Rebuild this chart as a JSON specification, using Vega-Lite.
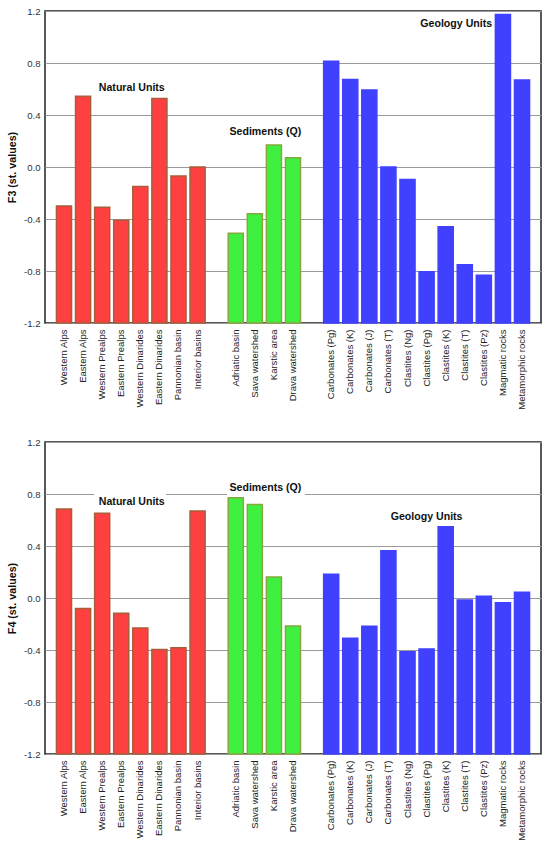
{
  "$schema": "https://vega.github.io/schema/vega-lite/v6.json",
  "background": "white",
  "padding": {"left": 5, "top": 5, "right": 5, "bottom": 2},
  "spacing": 26,
  "datasets": {
    "units": [
      {"unit": "Western Alps", "group": "Natural Units", "F3": -0.30, "F4": 0.685},
      {"unit": "Eastern Alps", "group": "Natural Units", "F3": 0.544, "F4": -0.08},
      {"unit": "Western Prealps", "group": "Natural Units", "F3": -0.31, "F4": 0.651},
      {"unit": "Eastern Prealps", "group": "Natural Units", "F3": -0.41, "F4": -0.118},
      {"unit": "Western Dinarides", "group": "Natural Units", "F3": -0.15, "F4": -0.23},
      {"unit": "Eastern Dinarides", "group": "Natural Units", "F3": 0.526, "F4": -0.397},
      {"unit": "Pannonian basin", "group": "Natural Units", "F3": -0.07, "F4": -0.382},
      {"unit": "Interior basins", "group": "Natural Units", "F3": 0.0, "F4": 0.669},
      {"unit": "Adriatic basin", "group": "Sediments (Q)", "F3": -0.51, "F4": 0.772},
      {"unit": "Sava watershed", "group": "Sediments (Q)", "F3": -0.36, "F4": 0.72},
      {"unit": "Karstic area", "group": "Sediments (Q)", "F3": 0.17, "F4": 0.162},
      {"unit": "Drava watershed", "group": "Sediments (Q)", "F3": 0.072, "F4": -0.215},
      {"unit": "Carbonates (Pg)", "group": "Geology Units", "F3": 0.813, "F4": 0.182},
      {"unit": "Carbonates (K)", "group": "Geology Units", "F3": 0.674, "F4": -0.31},
      {"unit": "Carbonates (J)", "group": "Geology Units", "F3": 0.592, "F4": -0.218},
      {"unit": "Carbonates (T)", "group": "Geology Units", "F3": 0.0, "F4": 0.364},
      {"unit": "Clastites (Ng)", "group": "Geology Units", "F3": -0.097, "F4": -0.413},
      {"unit": "Clastites (Pg)", "group": "Geology Units", "F3": -0.805, "F4": -0.392},
      {"unit": "Clastites (K)", "group": "Geology Units", "F3": -0.459, "F4": 0.549},
      {"unit": "Clastites (T)", "group": "Geology Units", "F3": -0.751, "F4": -0.015},
      {"unit": "Clastites (Pz)", "group": "Geology Units", "F3": -0.833, "F4": 0.013},
      {"unit": "Magmatic rocks", "group": "Geology Units", "F3": 1.174, "F4": -0.036},
      {"unit": "Metamorphic rocks", "group": "Geology Units", "F3": 0.669, "F4": 0.044}
    ],
    "notes": [
      {"panel": "F3", "label": "Natural Units", "unit": "Eastern Prealps", "value": 0.61},
      {"panel": "F3", "label": "Sediments (Q)", "unit": "Sava watershed", "value": 0.266},
      {"panel": "F3", "label": "Geology Units", "unit": "Clastites (K)", "value": 1.10},
      {"panel": "F4", "label": "Natural Units", "unit": "Eastern Prealps", "value": 0.74},
      {"panel": "F4", "label": "Sediments (Q)", "unit": "Sava watershed", "value": 0.85},
      {"panel": "F4", "label": "Geology Units", "unit": "Clastites (Pg)", "value": 0.625}
    ]
  },
  "vconcat": [
    {
      "width": 496,
      "height": 312,
      "layer": [
        {
          "data": {"name": "units"},
          "mark": {"type": "bar", "strokeWidth": 1.5},
          "encoding": {
            "x": {
              "field": "unit", "type": "nominal", "title": null,
              "scale": {
                "domain": ["Western Alps", "Eastern Alps", "Western Prealps", "Eastern Prealps", "Western Dinarides", "Eastern Dinarides", "Pannonian basin", "Interior basins", " ", "Adriatic basin", "Sava watershed", "Karstic area", "Drava watershed", "  ", "Carbonates (Pg)", "Carbonates (K)", "Carbonates (J)", "Carbonates (T)", "Clastites (Ng)", "Clastites (Pg)", "Clastites (K)", "Clastites (T)", "Clastites (Pz)", "Magmatic rocks", "Metamorphic rocks"],
                "paddingInner": 0.21, "paddingOuter": 0.6
              }
            },
            "y": {
              "field": "F3", "type": "quantitative", "title": "F3 (st. values)",
              "scale": {"domain": [-1.2, 1.2], "nice": false, "zero": false},
              "axis": {"values": [-1.2, -0.8, -0.4, 0, 0.4, 0.8, 1.2]}
            },
            "y2": {"datum": -1.2},
            "color": {
              "field": "group", "type": "nominal", "legend": null,
              "scale": {"domain": ["Natural Units", "Sediments (Q)", "Geology Units"], "range": ["#ff4040", "#40f040", "#4040ff"]}
            },
            "stroke": {
              "field": "group", "type": "nominal", "legend": null,
              "scale": {"domain": ["Natural Units", "Sediments (Q)", "Geology Units"], "range": ["#a85c3c", "#86a83c", "#4040ff"]}
            }
          }
        },
        {
          "data": {"name": "notes"},
          "transform": [{"filter": "datum.panel == 'F3'"}],
          "mark": {"type": "text", "fontWeight": "bold", "fontSize": 10.6, "color": "#111"},
          "encoding": {
            "x": {
              "field": "unit", "type": "nominal", "bandPosition": 1.2, "title": null,
              "scale": {
                "domain": ["Western Alps", "Eastern Alps", "Western Prealps", "Eastern Prealps", "Western Dinarides", "Eastern Dinarides", "Pannonian basin", "Interior basins", " ", "Adriatic basin", "Sava watershed", "Karstic area", "Drava watershed", "  ", "Carbonates (Pg)", "Carbonates (K)", "Carbonates (J)", "Carbonates (T)", "Clastites (Ng)", "Clastites (Pg)", "Clastites (K)", "Clastites (T)", "Clastites (Pz)", "Magmatic rocks", "Metamorphic rocks"],
                "paddingInner": 0.21, "paddingOuter": 0.6
              }
            },
            "y": {
              "field": "value", "type": "quantitative", "title": "F3 (st. values)",
              "axis": {"values": [-1.2, -0.8, -0.4, 0, 0.4, 0.8, 1.2]}
            },
            "text": {"field": "label"}
          }
        }
      ]
    },
    {
      "width": 496,
      "height": 312,
      "layer": [
        {
          "data": {"name": "units"},
          "mark": {"type": "bar", "strokeWidth": 1.5},
          "encoding": {
            "x": {
              "field": "unit", "type": "nominal", "title": null,
              "scale": {
                "domain": ["Western Alps", "Eastern Alps", "Western Prealps", "Eastern Prealps", "Western Dinarides", "Eastern Dinarides", "Pannonian basin", "Interior basins", " ", "Adriatic basin", "Sava watershed", "Karstic area", "Drava watershed", "  ", "Carbonates (Pg)", "Carbonates (K)", "Carbonates (J)", "Carbonates (T)", "Clastites (Ng)", "Clastites (Pg)", "Clastites (K)", "Clastites (T)", "Clastites (Pz)", "Magmatic rocks", "Metamorphic rocks"],
                "paddingInner": 0.21, "paddingOuter": 0.6
              }
            },
            "y": {
              "field": "F4", "type": "quantitative", "title": "F4 (st. values)",
              "scale": {"domain": [-1.2, 1.2], "nice": false, "zero": false},
              "axis": {"values": [-1.2, -0.8, -0.4, 0, 0.4, 0.8, 1.2]}
            },
            "y2": {"datum": -1.2},
            "color": {
              "field": "group", "type": "nominal", "legend": null,
              "scale": {"domain": ["Natural Units", "Sediments (Q)", "Geology Units"], "range": ["#ff4040", "#40f040", "#4040ff"]}
            },
            "stroke": {
              "field": "group", "type": "nominal", "legend": null,
              "scale": {"domain": ["Natural Units", "Sediments (Q)", "Geology Units"], "range": ["#a85c3c", "#86a83c", "#4040ff"]}
            }
          }
        },
        {
          "data": {"name": "notes"},
          "transform": [{"filter": "datum.panel == 'F4' && datum.label != 'Geology Units'"}],
          "mark": {"type": "text", "fontWeight": "bold", "fontSize": 10.6, "stroke": "white", "strokeWidth": 11, "strokeJoin": "round", "color": "white"},
          "encoding": {
            "x": {
              "field": "unit", "type": "nominal", "bandPosition": 1.2, "title": null,
              "scale": {
                "domain": ["Western Alps", "Eastern Alps", "Western Prealps", "Eastern Prealps", "Western Dinarides", "Eastern Dinarides", "Pannonian basin", "Interior basins", " ", "Adriatic basin", "Sava watershed", "Karstic area", "Drava watershed", "  ", "Carbonates (Pg)", "Carbonates (K)", "Carbonates (J)", "Carbonates (T)", "Clastites (Ng)", "Clastites (Pg)", "Clastites (K)", "Clastites (T)", "Clastites (Pz)", "Magmatic rocks", "Metamorphic rocks"],
                "paddingInner": 0.21, "paddingOuter": 0.6
              }
            },
            "y": {
              "field": "value", "type": "quantitative", "title": "F4 (st. values)",
              "axis": {"values": [-1.2, -0.8, -0.4, 0, 0.4, 0.8, 1.2]}
            },
            "text": {"field": "label"}
          }
        },
        {
          "data": {"name": "notes"},
          "transform": [{"filter": "datum.panel == 'F4' && datum.label != 'Geology Units'"}],
          "mark": {"type": "text", "fontWeight": "bold", "fontSize": 10.6, "color": "#111"},
          "encoding": {
            "x": {
              "field": "unit", "type": "nominal", "bandPosition": 1.2, "title": null,
              "scale": {
                "domain": ["Western Alps", "Eastern Alps", "Western Prealps", "Eastern Prealps", "Western Dinarides", "Eastern Dinarides", "Pannonian basin", "Interior basins", " ", "Adriatic basin", "Sava watershed", "Karstic area", "Drava watershed", "  ", "Carbonates (Pg)", "Carbonates (K)", "Carbonates (J)", "Carbonates (T)", "Clastites (Ng)", "Clastites (Pg)", "Clastites (K)", "Clastites (T)", "Clastites (Pz)", "Magmatic rocks", "Metamorphic rocks"],
                "paddingInner": 0.21, "paddingOuter": 0.6
              }
            },
            "y": {
              "field": "value", "type": "quantitative", "title": "F4 (st. values)",
              "axis": {"values": [-1.2, -0.8, -0.4, 0, 0.4, 0.8, 1.2]}
            },
            "text": {"field": "label"}
          }
        },
        {
          "data": {"name": "notes"},
          "transform": [{"filter": "datum.panel == 'F4' && datum.label == 'Geology Units'"}],
          "mark": {"type": "text", "fontWeight": "bold", "fontSize": 10.6, "color": "#111"},
          "encoding": {
            "x": {
              "field": "unit", "type": "nominal", "bandPosition": 0.5, "title": null,
              "scale": {
                "domain": ["Western Alps", "Eastern Alps", "Western Prealps", "Eastern Prealps", "Western Dinarides", "Eastern Dinarides", "Pannonian basin", "Interior basins", " ", "Adriatic basin", "Sava watershed", "Karstic area", "Drava watershed", "  ", "Carbonates (Pg)", "Carbonates (K)", "Carbonates (J)", "Carbonates (T)", "Clastites (Ng)", "Clastites (Pg)", "Clastites (K)", "Clastites (T)", "Clastites (Pz)", "Magmatic rocks", "Metamorphic rocks"],
                "paddingInner": 0.21, "paddingOuter": 0.6
              }
            },
            "y": {
              "field": "value", "type": "quantitative", "title": "F4 (st. values)",
              "axis": {"values": [-1.2, -0.8, -0.4, 0, 0.4, 0.8, 1.2]}
            },
            "text": {"field": "label"}
          }
        }
      ]
    }
  ],
  "config": {
    "font": "Liberation Sans",
    "view": {"stroke": "#222", "strokeWidth": 1.5},
    "axisX": {
      "labelAngle": 270, "labelFontSize": 9.5, "labelColor": "#222", "labelPadding": 6,
      "ticks": false, "domain": false, "grid": false, "labelLimit": 200
    },
    "axisY": {
      "labelExpr": "replace(format(datum.value, '.1f'), '−', '-')",
      "labelFontSize": 9.6, "labelColor": "#333", "labelPadding": 5,
      "ticks": false, "domain": false,
      "grid": true, "gridColor": "#9a9a9a", "gridWidth": 1,
      "titleFontSize": 10.7, "titleFontWeight": "bold", "titleColor": "#111", "titlePadding": 6
    }
  }
}
